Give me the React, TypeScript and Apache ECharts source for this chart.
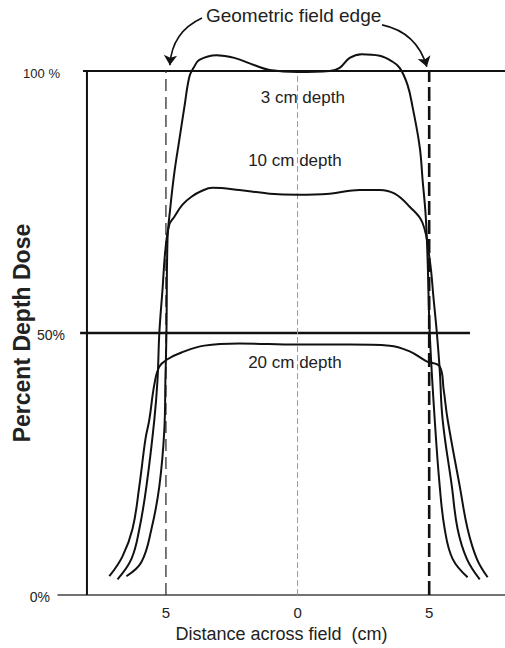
import React, { useEffect, useRef } from "react";
import * as echarts from "echarts";

// Dose profiles across the field: [distance (cm), percent depth dose]
const profile3cm: number[][] = [
  [-6.5, 3.6], [-5.93, 6.3], [-5.55, 12.6], [-5.25, 20.8], [-5.06, 31.6], [-5.02, 41.1],
  [-4.98, 50.1], [-4.94, 67.8], [-4.83, 74.1], [-4.68, 80.6], [-4.49, 86.9], [-4.3, 93.1],
  [-4.11, 98.9], [-3.95, 100.6], [-3.73, 102.1], [-3.08, 103.0], [-2.4, 102.5], [-1.63, 101.1],
  [-1.06, 100.2], [0, 99.8], [1.22, 100.0], [1.6, 100.6], [1.98, 102.5], [2.43, 103.2],
  [3.12, 102.9], [3.57, 101.9], [3.88, 100.6], [4.18, 97.3], [4.37, 93.1], [4.64, 85.5],
  [4.75, 79.2], [4.87, 72.2], [4.94, 64.0], [5.02, 50.1], [5.21, 33.5], [5.4, 20.8],
  [5.59, 12.6], [5.89, 6.9], [6.46, 3.4]
];
const profile10cm: number[][] = [
  [-6.84, 3.0], [-6.31, 6.9], [-6.01, 12.6], [-5.74, 20.8], [-5.44, 33.5], [-5.32, 41.1],
  [-5.25, 50.1], [-5.13, 58.3], [-5.02, 65.9], [-4.87, 70.7], [-4.68, 72.2], [-4.37, 74.5],
  [-4.03, 76.0], [-3.65, 77.1], [-3.23, 77.7], [-2.21, 77.3], [-1.06, 76.6], [0, 76.4],
  [1.22, 76.6], [2.36, 77.3], [3.12, 77.3], [3.69, 76.6], [4.26, 74.1], [4.75, 71.0],
  [5.02, 64.0], [5.17, 56.4], [5.29, 50.1], [5.4, 43.0], [5.51, 33.5], [5.86, 20.8],
  [6.08, 12.6], [6.43, 6.9], [6.92, 3.0]
];
const profile20cm: number[][] = [
  [-7.15, 3.6], [-6.65, 7.4], [-6.27, 12.6], [-6.01, 20.8], [-5.78, 29.7], [-5.63, 33.5],
  [-5.44, 40.2], [-5.25, 43.6], [-4.94, 45.0], [-4.41, 46.3], [-3.54, 47.6], [-2.21, 48.0],
  [0, 47.8], [1.98, 47.8], [3.5, 47.6], [4.26, 46.5], [4.9, 44.6], [5.4, 43.6],
  [5.55, 39.2], [5.7, 33.5], [6.16, 20.8], [6.46, 12.6], [6.81, 6.9], [7.22, 3.4]
];

const depthNames = ["3 cm depth", "10 cm depth", "20 cm depth"];
const depthNamePositions: number[][] = [[0.2, 95.0], [-0.1, 83.0], [-0.1, 44.4]];

const xTickValues = [-5, 0, 5];
const yTickValues = [0, 50, 100];
const yTickLabels = ["0%", "50%", "100 %"];

const xMin = -9.1;
const xMax = 7.88;
const axisX = -8;
const fieldEdgeLeft = -5;
const fieldEdgeRight = 5;

const line100: number[][] = [[-8.15, 100], [7.88, 100]];
const line50: number[][] = [[-8.26, 50], [6.55, 50]];
const yAxisLine: number[][] = [[axisX, 0], [axisX, 100]];
const centerLine: number[][] = [[0, 0], [0, 100]];
const leftEdgeLine: number[][] = [[fieldEdgeLeft, 0], [fieldEdgeLeft, 100]];
const rightEdgeLine: number[][] = [[fieldEdgeRight, 0], [fieldEdgeRight, 100]];

const arrowLeft: number[][] = [[-3.63, 110.1], [-4.85, 101.1]];
const arrowRight: number[][] = [[3.21, 108.8], [4.91, 100.8]];

const FONT = "'Liberation Sans', Arial, sans-serif";

export default function App() {
  const ref = useRef<HTMLDivElement>(null);
  useEffect(() => {
    if (!ref.current) return;
    const chart = echarts.init(ref.current, null, { renderer: "svg" });
    const straight = (name: string, data: number[][], color: string, width: number, type: any = "solid") => ({
      name,
      type: "line",
      data,
      symbol: "none",
      silent: true,
      clip: false,
      lineStyle: { color, width, type },
      z: 2,
    });
    const curve = (name: string, data: number[][]) => ({
      name,
      type: "line",
      data,
      symbol: "none",
      silent: true,
      clip: false,
      smooth: 0.4,
      lineStyle: { color: "#111", width: 2 },
      z: 3,
    });
    chart.setOption({
      animation: false,
      backgroundColor: "#ffffff",
      textStyle: { fontFamily: FONT },
      grid: { left: 58, right: 0, top: 71, bottom: 52, containLabel: false },
      xAxis: {
        type: "value",
        min: xMin,
        max: xMax,
        splitLine: { show: false },
        axisTick: { show: false },
        axisLine: { show: true, onZero: false, lineStyle: { color: "#444", width: 1.5 } },
        axisLabel: {
          customValues: xTickValues,
          formatter: (v: number) => String(Math.abs(v)),
          color: "#222",
          fontSize: 15,
          margin: 10,
          fontFamily: FONT,
        },
        name: "Distance across field  (cm)",
        nameLocation: "middle",
        nameGap: 26,
        nameTextStyle: { color: "#222", fontSize: 18, fontFamily: FONT },
      },
      yAxis: {
        type: "value",
        min: 0,
        max: 100,
        splitLine: { show: false },
        axisTick: { show: false },
        axisLine: { show: false },
        axisLabel: { show: false },
        name: "Percent Depth Dose",
        nameLocation: "middle",
        nameRotate: 90,
        nameGap: 25,
        nameTextStyle: { color: "#222", fontSize: 23, fontWeight: "bold", fontFamily: FONT },
      },
      series: [
        straight("100%", line100, "#111", 2),
        straight("50%", line50, "#111", 2.5),
        straight("axis", yAxisLine, "#111", 2),
        straight("center", centerLine, "#999", 1, [6, 3]),
        straight("edgeL", leftEdgeLine, "#333", 1.3, [12, 6]),
        straight("edgeR", rightEdgeLine, "#111", 2.6, [14, 5]),
        curve(depthNames[0], profile3cm),
        curve(depthNames[1], profile10cm),
        curve(depthNames[2], profile20cm),
        {
          type: "lines",
          coordinateSystem: "cartesian2d",
          clip: false,
          silent: true,
          symbol: ["none", "arrow"],
          symbolSize: 10,
          lineStyle: { color: "#111", width: 1.6, opacity: 1 },
          data: [
            { coords: arrowLeft, lineStyle: { curveness: -0.3 } },
            { coords: arrowRight, lineStyle: { curveness: 0.3 } },
          ],
          z: 4,
        },
      ],
    });

    const px = (x: number, y: number) => chart.convertToPixel({ gridIndex: 0 }, [x, y]) as number[];
    const yLabelGap = [37, 22, 27];
    const yLabelSize = [14, 14, 13];
    const graphics: any[] = [];
    yTickValues.forEach((v, i) => {
      const p = px(axisX, v);
      graphics.push({
        type: "text",
        x: p[0] - yLabelGap[i],
        y: p[1] + 2,
        style: { text: yTickLabels[i], align: "right", verticalAlign: "middle", fill: "#222", font: `${yLabelSize[i]}px ${FONT}` },
      });
    });
    depthNames.forEach((n, i) => {
      const p = px(depthNamePositions[i][0], depthNamePositions[i][1]);
      graphics.push({
        type: "text",
        x: p[0],
        y: p[1],
        style: { text: n, align: "center", verticalAlign: "middle", fill: "#222", font: `17px ${FONT}` },
      });
    });
    const tp = px(-0.15, 100);
    graphics.push({
      type: "text",
      x: tp[0],
      y: 15,
      style: { text: "Geometric field edge", align: "center", verticalAlign: "middle", fill: "#222", font: `19px ${FONT}` },
    });
    chart.setOption({ graphic: graphics });

    return () => chart.dispose();
  }, []);
  return <div ref={ref} style={{ width: 505, height: 648, position: "absolute", left: 0, top: 0 }} />;
}
